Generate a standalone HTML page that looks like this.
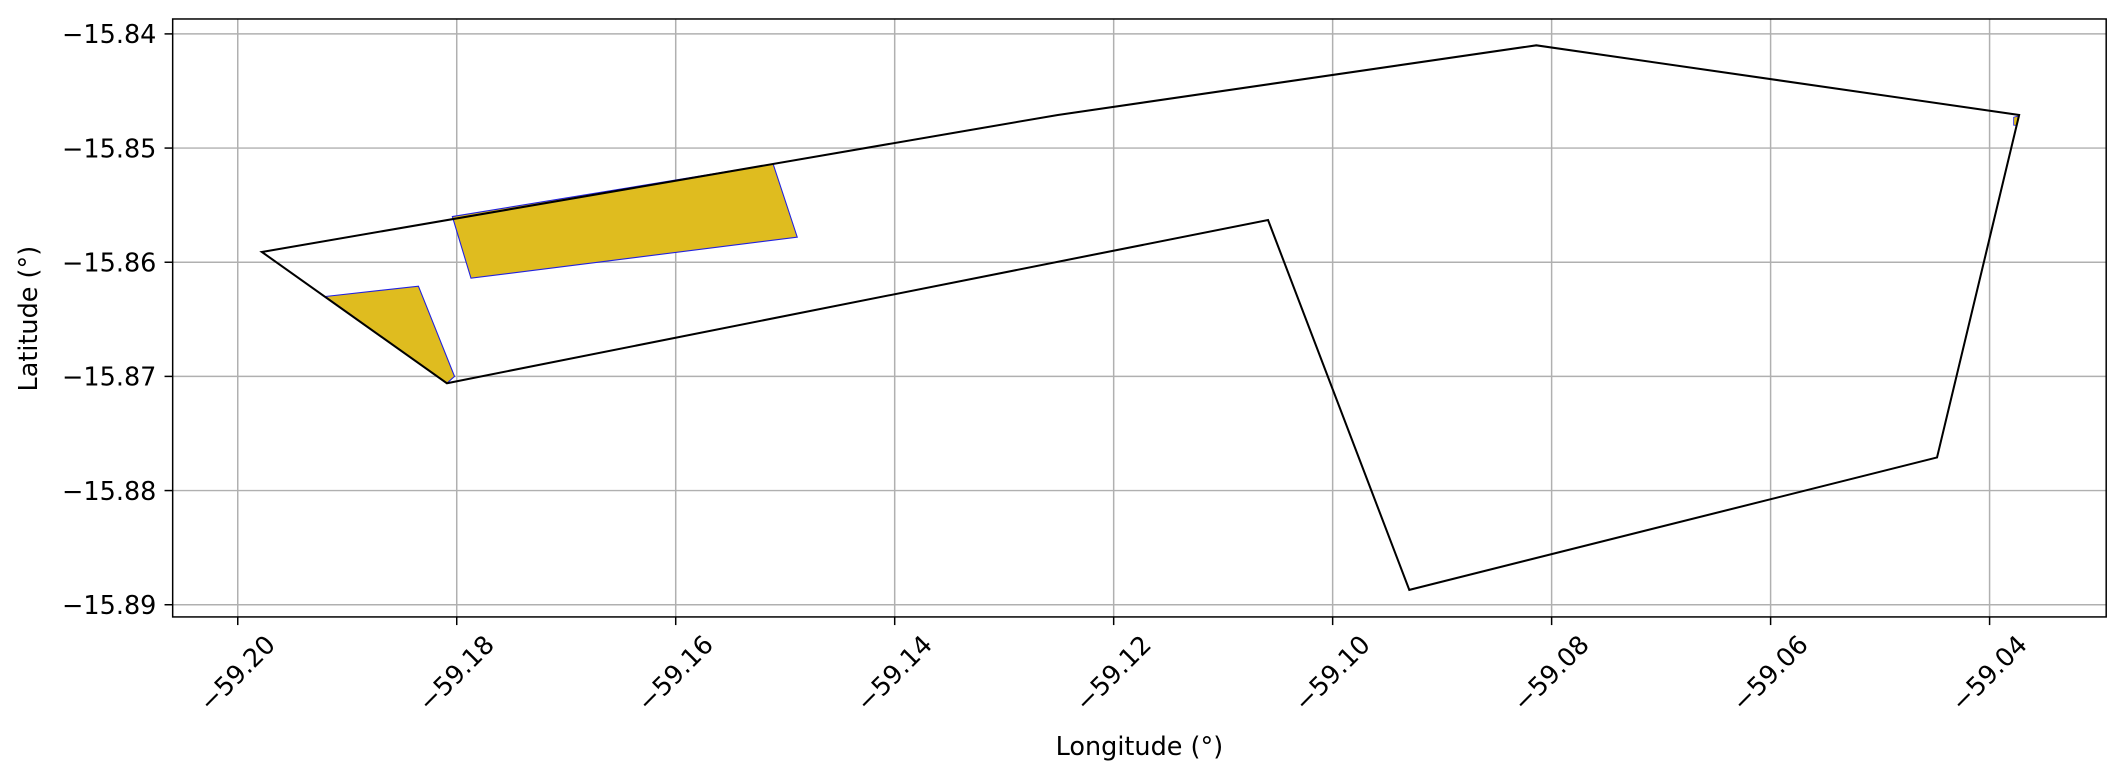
<!DOCTYPE html>
<html><head><meta charset="utf-8"><style>html,body{margin:0;padding:0;background:#fff}svg{display:block}text{font-family:"DejaVu Sans","Liberation Sans",sans-serif;fill:#000}</style></head>
<body>
<svg id="chart" width="2127" height="781" viewBox="0 0 1568 576" xmlns="http://www.w3.org/2000/svg"></svg>
<script>
const xTicks = [-59.20, -59.18, -59.16, -59.14, -59.12, -59.10, -59.08, -59.06, -59.04];
const yTicks = [-15.84, -15.85, -15.86, -15.87, -15.88, -15.89];
const boundaryLon = [-59.1978, -59.1251, -59.0814, -59.0373, -59.0448, -59.0930, -59.1059, -59.1809, -59.1978];
const boundaryLat = [-15.8591, -15.8471, -15.8410, -15.8471, -15.8771, -15.8887, -15.8563, -15.8706, -15.8591];
const field1Lon = [-59.1804, -59.1511, -59.1489, -59.1787];
const field1Lat = [-15.8560, -15.8514, -15.8578, -15.8614];
const field2Lon = [-59.1920, -59.1835, -59.1802, -59.1809];
const field2Lat = [-15.8630, -15.8621, -15.8700, -15.8706];
const field3Lon = [-59.0378, -59.0374, -59.0375, -59.0378];
const field3Lat = [-15.8473, -15.8472, -15.8480, -15.8480];

const NS = 'http://www.w3.org/2000/svg';
const svg = document.getElementById('chart');
const L = 127, R = 1553, T = 14, B = 455;
const FS = 18.8;
const sx = v => 175 + (v + 59.20) * 8075;
const sy = v => 25 + (-15.84 - v) * 8420;
function mk(tag, attrs, parent) {
  const e = document.createElementNS(NS, tag);
  for (const k in attrs) e.setAttribute(k, attrs[k]);
  (parent || svg).appendChild(e);
  return e;
}
const grid = mk('g', {});


xTicks.forEach(t => { const l = mk('line', {x1: sx(t), x2: sx(t), y1: T, y2: B, stroke: '#b0b0b0', 'stroke-width': 1.1}, grid);
  
   });
yTicks.forEach(t => { const l = mk('line', {x1: L, x2: R, y1: sy(t), y2: sy(t), stroke: '#b0b0b0', 'stroke-width': 1.1}, grid);
  
   });

function poly(lons, lats, attrs, name) {
  const p = mk('polygon', Object.assign({points: lons.map((v, i) => sx(v) + ',' + sy(lats[i])).join(' ')}, attrs));
  
  
}
poly(field1Lon, field1Lat, {fill: '#dfbc1f', stroke: '#2020e0', 'stroke-width': 0.8}, 'field-polygon-1');
poly(field2Lon, field2Lat, {fill: '#dfbc1f', stroke: '#2020e0', 'stroke-width': 0.8}, 'field-polygon-2');
poly(field3Lon, field3Lat, {fill: '#dfbc1f', stroke: '#2020e0', 'stroke-width': 0.6}, 'field-polygon-3');
poly(boundaryLon, boundaryLat, {fill: 'none', stroke: '#000', 'stroke-width': 1.5, 'stroke-linejoin': 'miter'}, 'boundary-polygon');

const frame = mk('rect', {x: L, y: T, width: R - L, height: B - T, fill: 'none', stroke: '#000', 'stroke-width': 1.1});



xTicks.forEach(t => {
  const x = sx(t);
  const tk = mk('line', {x1: x, x2: x, y1: B, y2: B + 6, stroke: '#000', 'stroke-width': 1.1});
  
  
  const tx = mk('text', {x: x, y: 497, 'font-size': FS, 'text-anchor': 'middle', 'dominant-baseline': 'central', transform: `rotate(-45 ${x} 497)`});
  tx.textContent = '\u2212' + Math.abs(t).toFixed(2);
  
  
});
yTicks.forEach(t => {
  const y = sy(t);
  const tk = mk('line', {x1: L - 6, x2: L, y1: y, y2: y, stroke: '#000', 'stroke-width': 1.1});
  
  
  const tx = mk('text', {x: L - 12, y: y + 6.8, 'font-size': FS, 'text-anchor': 'end'});
  tx.textContent = '\u2212' + Math.abs(t).toFixed(2);
  
  
});
const xl = mk('text', {x: 840, y: 557, 'font-size': FS, 'text-anchor': 'middle'});
xl.textContent = 'Longitude (°)';


const yl = mk('text', {x: 27, y: 235, 'font-size': FS, 'text-anchor': 'middle', transform: 'rotate(-90 27 235)'});
yl.textContent = 'Latitude (°)';


</script>
</body></html>
